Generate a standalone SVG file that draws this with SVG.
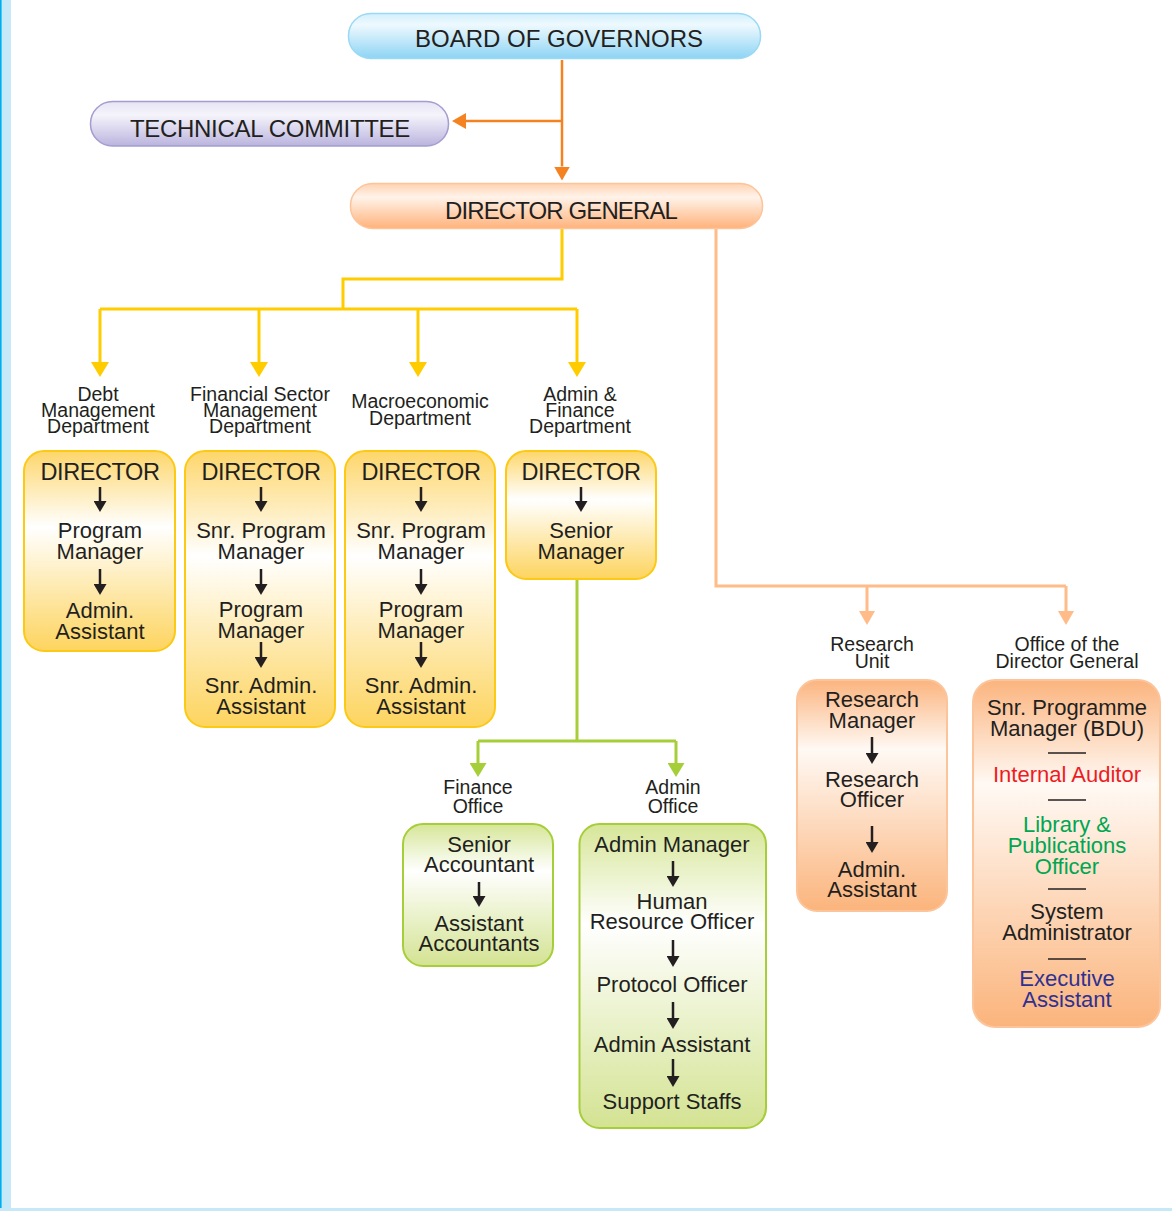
<svg xmlns="http://www.w3.org/2000/svg" width="1172" height="1211" viewBox="0 0 1172 1211">
<style>
.title{font-family:"Liberation Sans",Arial,sans-serif;font-size:24px;fill:#231f20;text-anchor:middle}
.lbl{font-family:"Liberation Sans",Arial,sans-serif;font-size:19.5px;fill:#231f20;text-anchor:middle}
.bt{font-family:"Liberation Sans",Arial,sans-serif;font-size:22px;fill:#231f20;text-anchor:middle}
.dir{font-size:23.5px;letter-spacing:-0.4px}
.red{fill:#ed1c24}.grn{fill:#00a651}.blu{fill:#2e3192}
.ia{stroke:#231f20;stroke-width:2.5;fill:none;marker-end:url(#mBlack)}
.sep{stroke:#231f20;stroke-width:1.6}
.yb{fill:url(#gY);stroke:#fcc915;stroke-width:2}
.gb{fill:url(#gG);stroke:#a6ce39;stroke-width:2}
.ob{fill:url(#gO);stroke:#fcc49a;stroke-width:2}
</style>
<defs>
<linearGradient id="gBlue" x1="0" y1="0" x2="0" y2="1"><stop offset="0" stop-color="#d2f0fc"/><stop offset="0.25" stop-color="#eef9fe"/><stop offset="1" stop-color="#8dd4f4"/></linearGradient>
<linearGradient id="gLav" x1="0" y1="0" x2="0" y2="1"><stop offset="0" stop-color="#e6e4f4"/><stop offset="0.3" stop-color="#f5f4fb"/><stop offset="1" stop-color="#bab4de"/></linearGradient>
<linearGradient id="gPeach" x1="0" y1="0" x2="0" y2="1"><stop offset="0" stop-color="#ffd2b0"/><stop offset="0.3" stop-color="#fff3ea"/><stop offset="1" stop-color="#ffb27a"/></linearGradient>
<linearGradient id="gY" x1="0" y1="0" x2="0" y2="1"><stop offset="0" stop-color="#fdd66b"/><stop offset="0.38" stop-color="#ffffff"/><stop offset="1" stop-color="#fdd45e"/></linearGradient>
<linearGradient id="gG" x1="0" y1="0" x2="0" y2="1"><stop offset="0" stop-color="#d6e698"/><stop offset="0.33" stop-color="#ffffff"/><stop offset="1" stop-color="#d3e392"/></linearGradient>
<linearGradient id="gO" x1="0" y1="0" x2="0" y2="1"><stop offset="0" stop-color="#fbb47e"/><stop offset="0.3" stop-color="#fff9f4"/><stop offset="1" stop-color="#fbb47c"/></linearGradient>
<marker id="mBlack" markerUnits="userSpaceOnUse" markerWidth="11" markerHeight="13" refX="0" refY="6.5" orient="auto" viewBox="0 0 11 13"><path d="M0,0 L11,6.5 L0,13 z" fill="#231f20"/></marker>
<marker id="mOrange" markerUnits="userSpaceOnUse" markerWidth="14" markerHeight="16" refX="0" refY="8" orient="auto" viewBox="0 0 14 16"><path d="M0,0 L14,8 L0,16 z" fill="#f58220"/></marker>
<marker id="mYellow" markerUnits="userSpaceOnUse" markerWidth="15" markerHeight="18" refX="0" refY="9" orient="auto" viewBox="0 0 15 18"><path d="M0,0 L15,9 L0,18 z" fill="#ffcc00"/></marker>
<marker id="mPeach" markerUnits="userSpaceOnUse" markerWidth="14" markerHeight="16" refX="0" refY="8" orient="auto" viewBox="0 0 14 16"><path d="M0,0 L14,8 L0,16 z" fill="#ffbb88"/></marker>
<marker id="mGreen" markerUnits="userSpaceOnUse" markerWidth="14" markerHeight="17" refX="0" refY="8.5" orient="auto" viewBox="0 0 14 17"><path d="M0,0 L14,8.5 L0,17 z" fill="#a6ce39"/></marker>
</defs>
<rect x="0" y="0" width="1172" height="1211" fill="#ffffff"/>
<rect x="0" y="0" width="11" height="1211" fill="#c5e9f9"/>
<rect x="0" y="0" width="1.6" height="1211" fill="#00aeef"/>
<rect x="0" y="1208" width="1172" height="3" fill="#c5e9f9"/>

<g id="connectors" fill="none">
<path d="M562,60 V166.5" stroke="#f58220" stroke-width="2.5" marker-end="url(#mOrange)"/>
<path d="M562,121 H466" stroke="#f58220" stroke-width="2.5" marker-end="url(#mOrange)"/>
<path d="M562,228 V279 H343 V309" stroke="#ffcc00" stroke-width="3"/>
<path d="M100,309 H577" stroke="#ffcc00" stroke-width="3"/>
<path d="M100,309 V362" stroke="#ffcc00" stroke-width="3" marker-end="url(#mYellow)"/>
<path d="M259,309 V362" stroke="#ffcc00" stroke-width="3" marker-end="url(#mYellow)"/>
<path d="M418,309 V362" stroke="#ffcc00" stroke-width="3" marker-end="url(#mYellow)"/>
<path d="M577,309 V362" stroke="#ffcc00" stroke-width="3" marker-end="url(#mYellow)"/>
<path d="M716,228 V586 H1066" stroke="#ffbb88" stroke-width="3"/>
<path d="M867,586 V611" stroke="#ffbb88" stroke-width="3" marker-end="url(#mPeach)"/>
<path d="M1066,586 V611" stroke="#ffbb88" stroke-width="3" marker-end="url(#mPeach)"/>
<path d="M577,579 V741" stroke="#a6ce39" stroke-width="3"/>
<path d="M478,741 H676" stroke="#a6ce39" stroke-width="3"/>
<path d="M478,741 V763" stroke="#a6ce39" stroke-width="3" marker-end="url(#mGreen)"/>
<path d="M676,741 V763" stroke="#a6ce39" stroke-width="3" marker-end="url(#mGreen)"/>
</g>

<g id="board">
<rect x="348.5" y="13.5" width="412" height="45" rx="22" fill="url(#gBlue)" stroke="#9ad9f5" stroke-width="1.5"/>
<text class="title" x="559" y="47">BOARD OF GOVERNORS</text>
</g>
<g id="technical-committee">
<rect x="90.5" y="101.5" width="358" height="44.5" rx="22" fill="url(#gLav)" stroke="#a49dd0" stroke-width="1.5"/>
<text class="title" x="270" y="137" style="letter-spacing:-0.3px">TECHNICAL COMMITTEE</text>
</g>
<g id="director-general">
<rect x="350.5" y="183.5" width="412" height="45" rx="22" fill="url(#gPeach)" stroke="#fdc49a" stroke-width="1.5"/>
<text class="title" x="561" y="219" style="letter-spacing:-0.9px">DIRECTOR GENERAL</text>
</g>

<g id="debt-management">
<text class="lbl" x="98" y="401">Debt</text>
<text class="lbl" x="98" y="417">Management</text>
<text class="lbl" x="98" y="433">Department</text>
<rect class="yb" x="24" y="451" width="151" height="200" rx="20"/>
<text class="bt dir" x="100" y="480">DIRECTOR</text>
<path class="ia" d="M100,487 V501"/>
<text class="bt" x="100" y="538">Program</text>
<text class="bt" x="100" y="559">Manager</text>
<path class="ia" d="M100,569 V584"/>
<text class="bt" x="100" y="618">Admin.</text>
<text class="bt" x="100" y="639">Assistant</text>
</g>

<g id="financial-sector">
<text class="lbl" x="260" y="401">Financial Sector</text>
<text class="lbl" x="260" y="417">Management</text>
<text class="lbl" x="260" y="433">Department</text>
<rect class="yb" x="185" y="451" width="150" height="276" rx="20"/>
<text class="bt dir" x="261" y="480">DIRECTOR</text>
<path class="ia" d="M261,487 V501"/>
<text class="bt" x="261" y="538">Snr. Program</text>
<text class="bt" x="261" y="559">Manager</text>
<path class="ia" d="M261,569 V584"/>
<text class="bt" x="261" y="617">Program</text>
<text class="bt" x="261" y="638">Manager</text>
<path class="ia" d="M261,642 V657"/>
<text class="bt" x="261" y="693">Snr. Admin.</text>
<text class="bt" x="261" y="714">Assistant</text>
</g>

<g id="macroeconomic">
<text class="lbl" x="420" y="408">Macroeconomic</text>
<text class="lbl" x="420" y="425">Department</text>
<rect class="yb" x="345" y="451" width="150" height="276" rx="20"/>
<text class="bt dir" x="421" y="480">DIRECTOR</text>
<path class="ia" d="M421,487 V501"/>
<text class="bt" x="421" y="538">Snr. Program</text>
<text class="bt" x="421" y="559">Manager</text>
<path class="ia" d="M421,569 V584"/>
<text class="bt" x="421" y="617">Program</text>
<text class="bt" x="421" y="638">Manager</text>
<path class="ia" d="M421,642 V657"/>
<text class="bt" x="421" y="693">Snr. Admin.</text>
<text class="bt" x="421" y="714">Assistant</text>
</g>

<g id="admin-finance">
<text class="lbl" x="580" y="401">Admin &amp;</text>
<text class="lbl" x="580" y="417">Finance</text>
<text class="lbl" x="580" y="433">Department</text>
<rect class="yb" x="506" y="451" width="150" height="128" rx="20"/>
<text class="bt dir" x="581" y="480">DIRECTOR</text>
<path class="ia" d="M581,487 V501"/>
<text class="bt" x="581" y="538">Senior</text>
<text class="bt" x="581" y="559">Manager</text>
</g>

<g id="finance-office">
<text class="lbl" x="478" y="794">Finance</text>
<text class="lbl" x="478" y="813">Office</text>
<rect class="gb" x="403" y="824" width="150" height="142" rx="20"/>
<text class="bt" x="479" y="852">Senior</text>
<text class="bt" x="479" y="872">Accountant</text>
<path class="ia" d="M479,882 V896"/>
<text class="bt" x="479" y="931">Assistant</text>
<text class="bt" x="479" y="951">Accountants</text>
</g>

<g id="admin-office">
<text class="lbl" x="673" y="794">Admin</text>
<text class="lbl" x="673" y="813">Office</text>
<rect class="gb" x="579.5" y="824" width="186.5" height="304" rx="20"/>
<text class="bt" x="672" y="852">Admin Manager</text>
<path class="ia" d="M673,861 V876"/>
<text class="bt" x="672" y="909">Human</text>
<text class="bt" x="672" y="929">Resource Officer</text>
<path class="ia" d="M673,940 V956"/>
<text class="bt" x="672" y="992">Protocol Officer</text>
<path class="ia" d="M673,1002 V1018"/>
<text class="bt" x="672" y="1052">Admin Assistant</text>
<path class="ia" d="M673,1059 V1076"/>
<text class="bt" x="672" y="1109">Support Staffs</text>
</g>

<g id="research-unit">
<text class="lbl" x="872" y="651">Research</text>
<text class="lbl" x="872" y="668">Unit</text>
<rect class="ob" x="797" y="680" width="150" height="231" rx="20"/>
<text class="bt" x="872" y="707">Research</text>
<text class="bt" x="872" y="728">Manager</text>
<path class="ia" d="M872,737 V753"/>
<text class="bt" x="872" y="787">Research</text>
<text class="bt" x="872" y="807">Officer</text>
<path class="ia" d="M872,826 V842"/>
<text class="bt" x="872" y="877">Admin.</text>
<text class="bt" x="872" y="897">Assistant</text>
</g>

<g id="office-director-general">
<text class="lbl" x="1067" y="651">Office of the</text>
<text class="lbl" x="1067" y="668">Director General</text>
<rect class="ob" x="973" y="680" width="187" height="347" rx="22"/>
<text class="bt" x="1067" y="715">Snr. Programme</text>
<text class="bt" x="1067" y="736">Manager (BDU)</text>
<line class="sep" x1="1048" y1="753" x2="1086" y2="753"/>
<text class="bt red" x="1067" y="782">Internal Auditor</text>
<line class="sep" x1="1048" y1="800" x2="1086" y2="800"/>
<text class="bt grn" x="1067" y="832">Library &amp;</text>
<text class="bt grn" x="1067" y="853">Publications</text>
<text class="bt grn" x="1067" y="874">Officer</text>
<line class="sep" x1="1048" y1="889" x2="1086" y2="889"/>
<text class="bt" x="1067" y="919">System</text>
<text class="bt" x="1067" y="940">Administrator</text>
<line class="sep" x1="1048" y1="959" x2="1086" y2="959"/>
<text class="bt blu" x="1067" y="986">Executive</text>
<text class="bt blu" x="1067" y="1007">Assistant</text>
</g>
</svg>
